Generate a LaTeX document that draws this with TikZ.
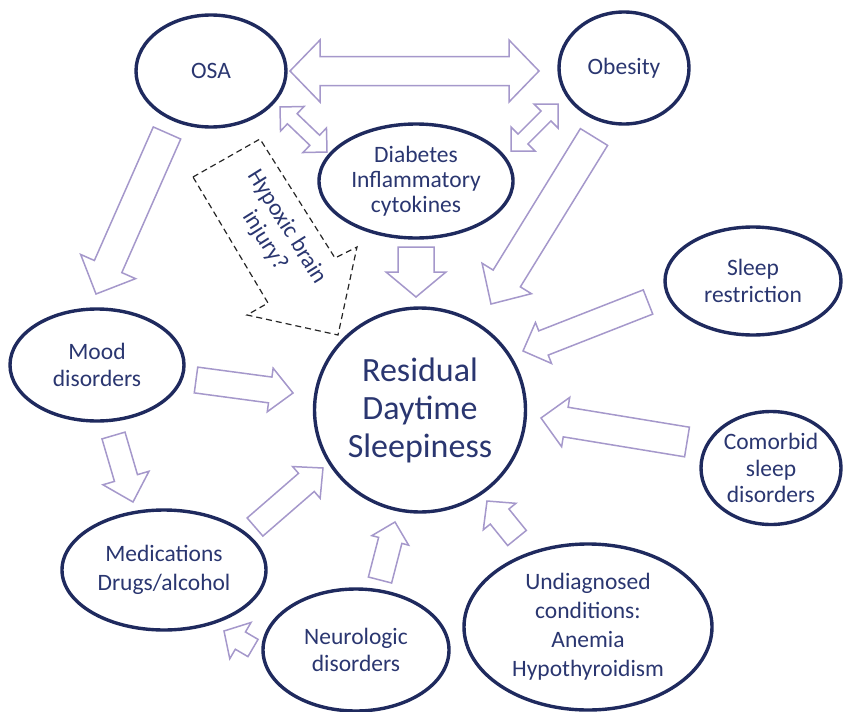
\documentclass[tikz,border=0pt]{standalone}
\usepackage{fontspec}
\setmainfont{Carlito}
\usetikzlibrary{shapes.geometric,calc}

\definecolor{navy}{HTML}{1F2A5E}
\definecolor{ink}{HTML}{2A3670}
\definecolor{lilac}{HTML}{A598CB}

% block arrow: tail, tip, shaft half width, head half width, head length
\newcommand{\blockarrow}[5]{%
  \path ($(#2)!#5pt!(#1)$) coordinate (hb);
  \draw[fatarrow] ($(#1)!#3pt!90:(#2)$) -- ($(hb)!#3pt!90:(#2)$) -- ($(hb)!#4pt!90:(#2)$) -- (#2)
    -- ($(hb)!#4pt!-90:(#2)$) -- ($(hb)!#3pt!-90:(#2)$) -- ($(#1)!#3pt!-90:(#2)$) -- cycle;
}
% same, with a head at both ends
\newcommand{\dblarrow}[5]{%
  \path ($(#2)!#5pt!(#1)$) coordinate (hb) ($(#1)!#5pt!(#2)$) coordinate (ha);
  \draw[fatarrow] (#1) -- ($(ha)!#4pt!90:(#2)$) -- ($(ha)!#3pt!90:(#2)$) -- ($(hb)!#3pt!90:(#2)$)
    -- ($(hb)!#4pt!90:(#2)$) -- (#2) -- ($(hb)!#4pt!-90:(#2)$) -- ($(hb)!#3pt!-90:(#2)$)
    -- ($(ha)!#3pt!-90:(#2)$) -- ($(ha)!#4pt!-90:(#2)$) -- cycle;
}

\begin{document}
\begin{tikzpicture}[x=1pt,y=-1pt,
  bubble/.style={ellipse, draw=navy, line width=3.4pt, text=ink, align=center, inner sep=0pt,
    font=\fontsize{23.5}{26.5}\selectfont},
  fatarrow/.style={draw=lilac, line width=1.5pt, fill=white, line join=miter}]
  \useasboundingbox (0,0) rectangle (846,712);

  % the causes
  \node[bubble, minimum width=150pt, minimum height=112pt] (osa) at (211,71) {OSA};
  \node[bubble, minimum width=130pt, minimum height=112pt] (obes) at (624,68) {Obesity};
  \node[bubble, minimum width=194pt, minimum height=114pt,
    font=\fontsize{23.5}{25}\selectfont] (diab) at (416,181)
    {Diabetes\\Inflammatory\\cytokines};
  \node[bubble, minimum width=176pt, minimum height=108pt] (sleep) at (753,281) {Sleep\\restriction};
  \node[bubble, minimum width=140pt, minimum height=113pt] (comorb) at (771,468)
    {Comorbid\\sleep\\disorders};
  \node[bubble, minimum width=248pt, minimum height=166pt,
    font=\fontsize{23.5}{29}\selectfont] (undiag) at (588,627)
    {Undiagnosed\\conditions:\\Anemia\\Hypothyroidism};
  \node[bubble, minimum width=186pt, minimum height=122pt] (neuro) at (356,650) {Neurologic\\disorders};
  \node[bubble, minimum width=204pt, minimum height=120pt,
    font=\fontsize{23.5}{29}\selectfont] (meds) at (164,570) {Medications\\Drugs/alcohol};
  \node[bubble, minimum width=174pt, minimum height=112pt] (mood) at (97,365) {Mood\\disorders};

  % the outcome
  \node[bubble, minimum width=211pt, minimum height=204pt,
    font=\fontsize{34}{38}\selectfont] (rds) at (420,410) {Residual\\Daytime\\Sleepiness};

  % arrow ends
  \coordinate (osa-r) at (290,71);    \coordinate (obes-l) at (539,71);
  \coordinate (osa-d) at (280,107);   \coordinate (diab-o) at (327,152);
  \coordinate (obes-d) at (558,104);  \coordinate (diab-b) at (511,151);
  \coordinate (diab-s) at (416,247);  \coordinate (rds-n) at (416,297);
  \coordinate (obes-s) at (594,137);  \coordinate (rds-ne) at (491,304);
  \coordinate (osa-s) at (167,133);   \coordinate (mood-n) at (96,294);
  \coordinate (sleep-w) at (648,302); \coordinate (rds-e1) at (523,351);
  \coordinate (comorb-w) at (687,442);\coordinate (rds-e2) at (541,418);
  \coordinate (undiag-n) at (517,538);\coordinate (rds-se) at (487,501);
  \coordinate (neuro-n) at (380,580); \coordinate (rds-s) at (395,522);
  \coordinate (neuro-w) at (253,648); \coordinate (meds-se) at (224,631);
  \coordinate (meds-ne) at (255,527); \coordinate (rds-sw) at (323,468);
  \coordinate (mood-e) at (196,380);  \coordinate (rds-w) at (293,393);
  \coordinate (mood-s) at (113.5,435.5); \coordinate (meds-n) at (133,502);

  \dblarrow{osa-r}{obes-l}{14.5}{31}{30}
  \dblarrow{osa-d}{diab-o}{7}{17}{17}
  \dblarrow{obes-d}{diab-b}{7}{17}{17}

  \foreach \a/\b/\w/\h/\l in {diab-s/rds-n/18/30/25, obes-s/rds-ne/16/29/30,
      osa-s/mood-n/15/30/30, sleep-w/rds-e1/13/22/22, comorb-w/rds-e2/15/25/25,
      undiag-n/rds-se/12/21/20, neuro-n/rds-s/12/19/19, neuro-w/meds-se/10/21/19,
      meds-ne/rds-sw/12/21/22, mood-e/rds-w/13/22/23, mood-s/meds-n/12/24/25}
    {\blockarrow{\a}{\b}{\w}{\h}{\l}}

  % the doubtful link
  \draw[black!85, line width=1.2pt, dash pattern=on 6pt off 4pt]
    (193,177) -- (260,139) -- (335,258) -- (357,247) -- (338,335) -- (247,315) -- (268,303) -- cycle;
  \node[rotate=-58, text=ink, align=center, font=\fontsize{23.5}{26}\selectfont] (hyp) at (276,234)
    {Hypoxic brain\\injury?};
\end{tikzpicture}
\end{document}
